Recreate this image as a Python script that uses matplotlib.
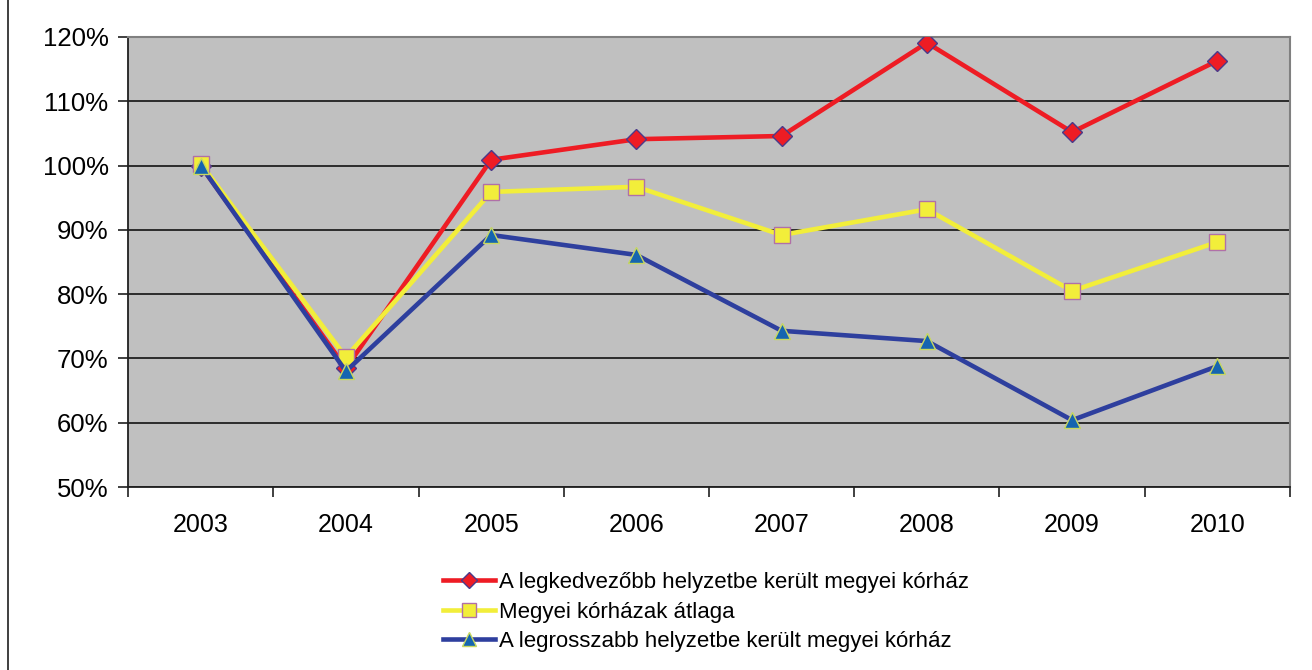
import matplotlib.pyplot as plt
from matplotlib.lines import Line2D
from matplotlib.ticker import FuncFormatter

evek = ['2003', '2004', '2005', '2006', '2007', '2008', '2009', '2010']
legjobb = [100.0, 68.5, 100.9, 104.1, 104.6, 119.1, 105.2, 116.3]
atlag = [100.3, 70.2, 95.9, 96.7, 89.2, 93.2, 80.5, 88.1]
legrosszabb = [100.0, 68.0, 89.2, 86.1, 74.3, 72.7, 60.4, 68.8]

nevek = ['A legkedvezőbb helyzetbe került megyei kórház',
         'Megyei kórházak átlaga',
         'A legrosszabb helyzetbe került megyei kórház']

plt.rcParams['font.family'] = ['Liberation Sans', 'DejaVu Sans']

fig = plt.figure(figsize=(13.12, 6.7), dpi=100)
ax = fig.add_axes([0.0976, 0.2731, 0.8856, 0.6717])
ax.set_facecolor('#c0c0c0')

x = list(range(len(evek)))
ax.plot(x, legjobb, color='#ee1c24', linewidth=3.3, marker='D', markersize=10,
        markerfacecolor='#ee1c24', markeredgecolor='#4a3a8a', markeredgewidth=1, label=nevek[0], zorder=3)
ax.plot(x, atlag, color='#f2ee3a', linewidth=3.3, marker='s', markersize=12,
        markerfacecolor='#f2ee3a', markeredgecolor='#b070a8', markeredgewidth=1, label=nevek[1], zorder=4)
ax.plot(x, legrosszabb, color='#2e3f9e', linewidth=3.3, marker='^', markersize=12,
        markerfacecolor='#1565b0', markeredgecolor='#c8d860', markeredgewidth=1, label=nevek[2], zorder=5)

ax.set_xlim(-0.5, len(evek) - 0.5)
ax.set_ylim(50, 120)
ax.set_yticks(range(50, 121, 10))
ax.yaxis.set_major_formatter(FuncFormatter(lambda v, p: '%d%%' % v))
ax.grid(axis='y', color='#202020', linewidth=1.3)
ax.set_axisbelow(True)

# tick marks on category boundaries, labels in the middle
ax.set_xticks([i - 0.5 for i in range(len(evek) + 1)])
ax.set_xticklabels([])
ax.set_xticks(x, minor=True)
ax.set_xticklabels(evek, minor=True)
ax.tick_params(axis='x', which='major', length=7, width=1.2, color='#202020', direction='out')
ax.tick_params(axis='x', which='minor', length=0, pad=19, labelsize=18)
ax.tick_params(axis='y', length=7, width=1.2, color='#202020', pad=7, labelsize=18.5)

for s in ['left', 'bottom']:
    ax.spines[s].set_color('#202020')
    ax.spines[s].set_linewidth(1.3)
for s in ['top', 'right']:
    ax.spines[s].set_color('#808080')
    ax.spines[s].set_linewidth(1.5)

leg = fig.legend(loc='upper left', bbox_to_anchor=(0.338, 0.146), frameon=False, fontsize=16,
                 handlelength=2.3, handletextpad=0.2, labelspacing=0.38, borderpad=0, borderaxespad=0,
                 markerscale=0.8)

fig.add_artist(Line2D([8 / 1312, 8 / 1312], [0, 1], color='#303030', linewidth=1.3))

plt.savefig('out.png', dpi=100)
